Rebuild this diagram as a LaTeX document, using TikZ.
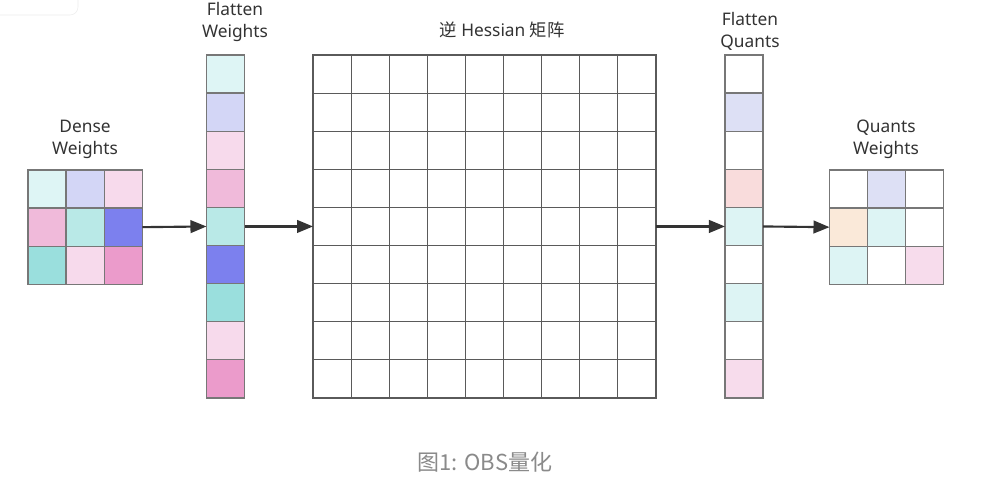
\documentclass[tikz,border=0pt]{standalone}
\usepackage{fontspec}
\setmainfont{Noto Sans}
\newfontfamily\cjk{Noto Sans CJK SC}
\usetikzlibrary{arrows.meta}
\definecolor{wcA}{HTML}{DEF5F5}
\definecolor{wcB}{HTML}{D3D6F6}
\definecolor{wcC}{HTML}{F7DAEC}
\definecolor{wcD}{HTML}{F0BADA}
\definecolor{wcE}{HTML}{B9E9E7}
\definecolor{wcF}{HTML}{7C80EE}
\definecolor{wcG}{HTML}{9ADFDD}
\definecolor{wcH}{HTML}{F7DAEC}
\definecolor{wcI}{HTML}{EB9BCB}
\definecolor{qLav}{HTML}{DDE0F5}
\definecolor{qSal}{HTML}{F9DCDC}
\definecolor{qCy}{HTML}{DDF4F4}
\definecolor{qPk}{HTML}{F7DCEC}
\definecolor{qPe}{HTML}{FAE9D9}
\definecolor{cellgray}{HTML}{777777}
\definecolor{gridblack}{HTML}{5A5A5A}
\definecolor{arrowdark}{HTML}{333333}
\definecolor{textdark}{HTML}{333333}
\definecolor{capgray}{HTML}{8A8A8A}
\begin{document}
\begin{tikzpicture}[x=0.75pt,y=-0.75pt,
  cell/.style={draw=cellgray, line width=1pt, minimum size=28.575pt, inner sep=0pt, outer sep=0pt},
  hcell/.style={draw=gridblack, line width=0.9pt, minimum size=28.575pt, inner sep=0pt, outer sep=0pt, fill=white},
  lab/.style={align=center, text=textdark, font=\fontsize{13}{16.5}\selectfont, inner sep=0pt},
  arr/.style={draw=arrowdark, line width=1.6pt, -{Triangle[length=12pt,width=9.5pt]}}]
\path[use as bounding box, fill=white] (0,0) rectangle (987,480);
\draw[black!7, rounded corners=6pt] (-10,-10) rectangle (78,15);
% Dense weights
\foreach \c [count=\k] in {wcA,wcB,wcC,wcD,wcE,wcF,wcG,wcH,wcI} {
  \pgfmathtruncatemacro\row{(\k-1)/3}
  \pgfmathtruncatemacro\col{mod(\k-1,3)}
  \node[cell, fill=\c] (d\k) at ({28+38.1*(\col+0.5)},{170+38.1*(\row+0.5)}) {};
}
% Flatten weights
\foreach \c [count=\k] in {wcA,wcB,wcC,wcD,wcE,wcF,wcG,wcH,wcI} {
  \node[cell, fill=\c] (fw\k) at (225.5,{55+38.1*(\k-0.5)}) {};
}
% Hessian
\foreach \i in {1,...,9} {
  \foreach \j in {1,...,9} {
    \node[hcell] (h-\i-\j) at ({313+38.1*(\j-0.5)},{55+38.1*(\i-0.5)}) {};
  }
}
% Flatten quants
\foreach \c [count=\k] in {white,qLav,white,qSal,qCy,white,qCy,white,qPk} {
  \node[cell, fill=\c] (fq\k) at (744,{55+38.1*(\k-0.5)}) {};
}
% Quants weights
\foreach \c [count=\k] in {white,qLav,white,qPe,qCy,white,qCy,white,qPk} {
  \pgfmathtruncatemacro\row{(\k-1)/3}
  \pgfmathtruncatemacro\col{mod(\k-1,3)}
  \node[cell, fill=\c] (q\k) at ({829.5+38.1*(\col+0.5)},{170+38.1*(\row+0.5)}) {};
}
% Labels
\node[lab] (ldw) at (85,139) {Dense\\Weights};
\node[lab] (lfw) at (235,22) {Flatten\\Weights};
\node[lab] (lh) at (502,30) {{\cjk 逆} Hessian {\cjk 矩阵}};
\node[lab] (lfq) at (750,31) {Flatten\\Quants};
\node[lab] (lqw) at (886,139) {Quants\\Weights};
\node[text=capgray, font=\cjk\fontsize{16.5}{20}\selectfont] (cap) at (485,462) {图1: OBS量化};
% Arrows
\draw[arr] (d6.east) -- (fw5.west);
\draw[arr] (fw5.east) -- (h-5-1.west);
\draw[arr] (h-5-9.east) -- (fq5.west);
\draw[arr] (fq5.east) -- (q4.west);
\end{tikzpicture}
\end{document}
